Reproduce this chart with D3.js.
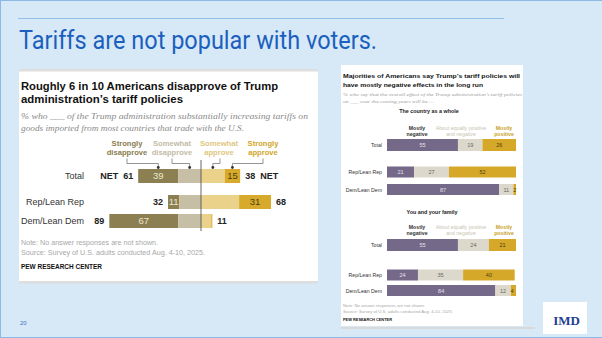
<!DOCTYPE html>
<html>
<head>
<meta charset="utf-8">
<script src="https://cdn.jsdelivr.net/npm/d3@7"></script>
<style>
  body { margin: 0; background: #d7e9f6; }
  svg { display: block; }
</style>
</head>
<body>
<svg id="chart" width="602" height="338"></svg>
<script>
// Left chart: Pew, approval of tariff policies
const leftRows = ["Total", "Rep/Lean Rep", "Dem/Lean Dem"];
const leftCats = ["Strongly disapprove", "Somewhat disapprove", "Somewhat approve", "Strongly approve"];
const stronglyDisapprove = [39, 11, 67];
const somewhatDisapprove = [22, 21, 22];
const somewhatApprove = [23, 37, 10];
const stronglyApprove = [15, 31, 1];
const netDisapprove = ["NET  61", "32", "89"];
const netApprove = ["38  NET", "68", "11"];

// Right chart: long run effects
const rightRows = ["Total", "Rep/Lean Rep", "Dem/Lean Dem"];
const rightCats = ["Mostly negative", "About equally positive and negative", "Mostly positive"];
const countryNegative = [55, 21, 87];
const countryEqual = [19, 27, 11];
const countryPositive = [26, 52, 2];
const familyNegative = [55, 24, 84];
const familyEqual = [24, 35, 12];
const familyPositive = [21, 40, 4];

const svg = d3.select("#chart");

// slide frame
svg.append("rect").attr("x", 0).attr("y", 0).attr("width", 602).attr("height", 338).attr("fill", "#d7e9f6");
svg.append("line").attr("x1", 0.5).attr("x2", 0.5).attr("y1", 0).attr("y2", 338).attr("stroke", "#8db9e6");
svg.append("line").attr("x1", 0).attr("x2", 602).attr("y1", 0.5).attr("y2", 0.5).attr("stroke", "#8db9e6");
svg.append("line").attr("x1", 0).attr("x2", 602).attr("y1", 337.5).attr("y2", 337.5).attr("stroke", "#8db9e6");
svg.append("line").attr("x1", 18).attr("x2", 504).attr("y1", 18.5).attr("y2", 18.5).attr("stroke", "#93c0ea");

svg.append("text")
  .attr("x", 19).attr("y", 49)
  .attr("font-family", "Roboto, 'Liberation Sans', sans-serif")
  .attr("font-size", 26)
  .attr("fill", "#1b5fbf")
  .attr("textLength", 358).attr("lengthAdjust", "spacingAndGlyphs")
  .text("Tariffs are not popular with voters.");

svg.append("text").attr("x", 20).attr("y", 325)
  .attr("font-family", "'Liberation Sans', sans-serif").attr("font-size", 6)
  .attr("fill", "#3a72c9").text("20");

// IMD logo
svg.append("rect").attr("x", 543).attr("y", 302).attr("width", 44).attr("height", 32).attr("fill", "#fff");
svg.append("text").attr("x", 566.5).attr("y", 325).attr("text-anchor", "middle")
  .attr("font-family", "'Liberation Serif', serif").attr("font-weight", "bold")
  .attr("font-size", 13).attr("fill", "#1f3f94").text("IMD");

const sans = "'Liberation Sans', Arial, sans-serif";
const serif = "'Liberation Serif', serif";

function addText(g, x, y, str, opts) {
  const t = g.append("text").attr("x", x).attr("y", y)
    .attr("font-family", opts.family || sans)
    .attr("font-size", opts.size)
    .attr("fill", opts.fill || "#222")
    .text(str);
  if (opts.bold) t.attr("font-weight", "bold");
  if (opts.italic) t.attr("font-style", "italic");
  if (opts.anchor) t.attr("text-anchor", opts.anchor);
  if (opts.width) t.attr("textLength", opts.width).attr("lengthAdjust", "spacingAndGlyphs");
  return t;
}

// ---------------- Left panel ----------------
const left = svg.append("g");
left.append("rect").attr("x", 19).attr("y", 69).attr("width", 299).attr("height", 214).attr("fill", "#fff");
left.append("rect").attr("x", 19).attr("y", 69).attr("width", 299).attr("height", 2.5).attr("fill", "#dedede");
left.append("rect").attr("x", 19).attr("y", 281).attr("width", 299).attr("height", 2.5).attr("fill", "#dedede");

addText(left, 21, 90, "Roughly 6 in 10 Americans disapprove of Trump", { size: 11.2, bold: true, fill: "#111", width: 257 });
addText(left, 21, 103, "administration\u2019s tariff policies", { size: 11.2, bold: true, fill: "#111", width: 162 });
addText(left, 21, 119, "% who ___ of the Trump administration substantially increasing tariffs on",
  { size: 9.2, italic: true, family: serif, fill: "#8a8a8a", width: 287 });
addText(left, 21, 131, "goods imported from most countries that trade with the U.S.",
  { size: 9.2, italic: true, family: serif, fill: "#8a8a8a", width: 223 });

const leftColors = ["#8c7f52", "#c6bfa6", "#ead28a", "#d8aa2b"];
const leftHeadColors = ["#8a7d4c", "#c2bca5", "#e0c680", "#d1a529"];
const headX = [127, 172, 219, 263];

const xL = d3.scaleLinear().domain([-100, 100]).range([98, 304]);
const yL = d3.scaleOrdinal().domain(leftRows).range([176, 202, 221]);
const barHL = 14;

const segsL = leftRows.map((r, i) => {
  const sd = stronglyDisapprove[i], wd = somewhatDisapprove[i];
  const wa = somewhatApprove[i], sa = stronglyApprove[i];
  return [
    { row: r, k: 0, x0: -(sd + wd), x1: -wd, v: sd },
    { row: r, k: 1, x0: -wd, x1: 0, v: wd },
    { row: r, k: 2, x0: 0, x1: wa, v: wa },
    { row: r, k: 3, x0: wa, x1: wa + sa, v: sa }
  ];
}).flat();

left.selectAll("rect.seg").data(segsL).enter().append("rect")
  .attr("class", "seg")
  .attr("x", d => xL(d.x0))
  .attr("y", d => yL(d.row) - barHL / 2)
  .attr("width", d => xL(d.x1) - xL(d.x0))
  .attr("height", barHL)
  .attr("fill", d => leftColors[d.k]);

left.selectAll("text.seglab").data(segsL.filter(d => (d.k === 0 || d.k === 3) && d.v >= 5)).enter().append("text")
  .attr("class", "seglab")
  .attr("x", d => (xL(d.x0) + xL(d.x1)) / 2)
  .attr("y", d => yL(d.row) + 3.3)
  .attr("text-anchor", "middle")
  .attr("font-family", sans).attr("font-size", 9.5)
  .attr("fill", d => d.k === 0 ? "#ece6cf" : "#4d3d0c")
  .text(d => d.v);

// center line
left.append("line").attr("x1", xL(0)).attr("x2", xL(0)).attr("y1", 160).attr("y2", 231)
  .attr("stroke", "#555").attr("stroke-width", 0.9);

// row labels
leftRows.forEach((r, i) => {
  addText(left, 84, yL(r) + 3.3, r, { size: 9, anchor: "end", fill: "#333" });
  const tot = stronglyDisapprove[i] + somewhatDisapprove[i];
  const app = somewhatApprove[i] + stronglyApprove[i];
  addText(left, xL(-tot) - 5, yL(r) + 3.3, netDisapprove[i], { size: 9, bold: true, anchor: "end", fill: "#222" })
    .style("white-space", "pre");
  addText(left, xL(app) + 5, yL(r) + 3.3, netApprove[i], { size: 9, bold: true, fill: "#222" })
    .style("white-space", "pre");
});

// column headers + brackets
leftCats.forEach((c, k) => {
  const words = c.split(" ");
  addText(left, headX[k], 146, words[0], { size: 7.6, bold: true, anchor: "middle", fill: leftHeadColors[k] });
  addText(left, headX[k], 155, words[1], { size: 7.6, bold: true, anchor: "middle", fill: leftHeadColors[k] });
  const s = segsL[k];
  const dx = (xL(s.x0) + xL(s.x1)) / 2;
  left.append("path")
    .attr("d", `M${headX[k] + (k === 2 ? 1 : 0)},158.5 V163.5 H${dx} V167.5`)
    .attr("fill", "none").attr("stroke", "#666").attr("stroke-width", 0.7);
  left.append("circle").attr("cx", dx).attr("cy", 167.5).attr("r", 1.4).attr("fill", "#333");
});

addText(left, 21, 245, "Note: No answer responses are not shown.", { size: 7.6, fill: "#a8a8a8", width: 137 });
addText(left, 21, 254.5, "Source: Survey of U.S. adults conducted Aug. 4-10, 2025.", { size: 7.6, fill: "#a8a8a8", width: 184 });
addText(left, 21, 269, "PEW RESEARCH CENTER", { size: 7.2, bold: true, fill: "#111", width: 81 });

// ---------------- Right panel ----------------
const right = svg.append("g");
right.append("rect").attr("x", 341).attr("y", 65).attr("width", 182).attr("height", 261).attr("fill", "#fff");
right.append("rect").attr("x", 341).attr("y", 327).attr("width", 194).attr("height", 2).attr("fill", "#d9d9d9");

addText(right, 343, 78, "Majorities of Americans say Trump\u2019s tariff policies will", { size: 6.1, bold: true, fill: "#111", width: 177 });
addText(right, 343, 87, "have mostly negative effects in the long run", { size: 6.1, bold: true, fill: "#111", width: 140 });
addText(right, 343, 96, "% who say that the overall effect of the Trump administration\u2019s tariff policies",
  { size: 4.6, italic: true, family: serif, fill: "#9a9a9a", width: 179 });
addText(right, 343, 103, "on ___ over the coming years will be \u2026",
  { size: 4.6, italic: true, family: serif, fill: "#9a9a9a", width: 91 });

const rightColors = ["#75698a", "#dcd9cc", "#d6a82a"];
const rightHeadColors = ["#333", "#c8c4b2", "#c99f25"];
const rightTextColors = ["#e6e1ee", "#666", "#4d3d0c"];
const rHeadX = [417, 461, 504];
const rHeadLines = [["Mostly", "negative"], ["About equally positive", "and negative"], ["Mostly", "positive"]];

const xR = d3.scaleLinear().domain([0, 100]).range([387, 516]);

function drawSection(title, titleX, titleY, headY, rowYs, neg, eq, pos) {
  const yR = d3.scaleOrdinal().domain(rightRows).range(rowYs);
  addText(right, titleX, titleY, title, { size: 5.4, bold: true, anchor: "middle", fill: "#222" });
  rHeadLines.forEach((lines, k) => {
    lines.forEach((ln, j) => {
      addText(right, rHeadX[k], headY + j * 6.3, ln, { size: 5.2, bold: k !== 1, anchor: "middle", fill: rightHeadColors[k] });
    });
  });
  const segs = rightRows.map((r, i) => [
    { row: r, k: 0, x0: 0, x1: neg[i], v: neg[i] },
    { row: r, k: 1, x0: neg[i], x1: neg[i] + eq[i], v: eq[i] },
    { row: r, k: 2, x0: neg[i] + eq[i], x1: neg[i] + eq[i] + pos[i], v: pos[i] }
  ]).flat();
  const g = right.append("g");
  g.selectAll("rect").data(segs).enter().append("rect")
    .attr("x", d => xR(d.x0))
    .attr("y", d => yR(d.row) - (d.row === "Total" ? 6 : 5.5))
    .attr("width", d => xR(d.x1) - xR(d.x0))
    .attr("height", d => d.row === "Total" ? 12 : 11)
    .attr("fill", d => rightColors[d.k]);
  g.selectAll("text").data(segs).enter().append("text")
    .attr("x", d => d.v < 5 ? xR(d.x0) + 1.3 : (xR(d.x0) + xR(d.x1)) / 2)
    .attr("y", d => yR(d.row) + 2)
    .attr("text-anchor", "middle")
    .attr("font-family", sans).attr("font-size", 5.5)
    .attr("fill", d => rightTextColors[d.k])
    .text(d => d.v);
  rightRows.forEach(r => addText(right, 382, yR(r) + 2, r, { size: 5.2, anchor: "end", fill: "#333" }));
}

drawSection("The country as a whole", 429, 113, 130, [145, 172, 189.5], countryNegative, countryEqual, countryPositive);
drawSection("You and your family", 432, 214, 228.5, [245, 275, 290.5], familyNegative, familyEqual, familyPositive);

addText(right, 343, 307, "Note: No answer responses are not shown.", { size: 4.4, fill: "#a8a8a8", width: 82 });
addText(right, 343, 312.5, "Source: Survey of U.S. adults conducted Aug. 4-10, 2025.", { size: 4.4, fill: "#a8a8a8", width: 110 });
addText(right, 343, 321, "PEW RESEARCH CENTER", { size: 4.4, bold: true, fill: "#111", width: 49 });
</script>
</body>
</html>
